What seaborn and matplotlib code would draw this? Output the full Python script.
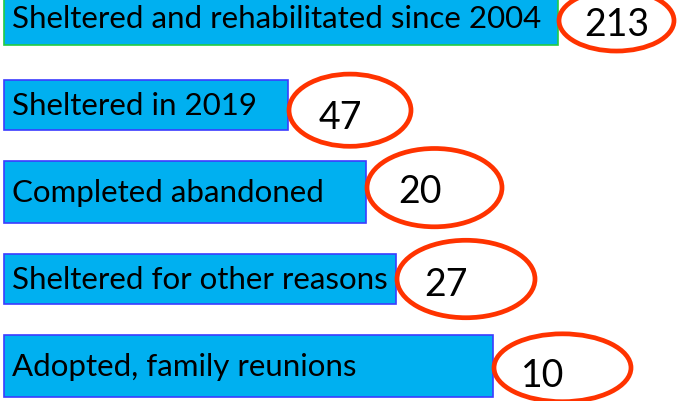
import matplotlib
matplotlib.use("Agg")
import matplotlib.pyplot as plt
from matplotlib.patches import Ellipse
import seaborn as sns
import pandas as pd

# ---- data ----
categories = [
    "Sheltered and rehabilitated since 2004",
    "Sheltered in 2019",
    "Completed abandoned",
    "Sheltered for other reasons",
    "Adopted, family reunions",
]
values = [213, 47, 20, 27, 10]
# bar lengths as drawn in the picture (not proportional to the values)
bar_lengths = [554, 284, 362, 392, 489]

df = pd.DataFrame({"category": categories, "length": bar_lengths, "value": values})

sns.set_theme(style="white")
plt.rcParams["font.family"] = ["Lato", "DejaVu Sans"]

fig = plt.figure(figsize=(6.98, 4.02), dpi=100)
ax = fig.add_axes([0, 0, 1, 1])

sns.barplot(data=df, x="length", y="category", orient="h", color="#00B0F0",
            saturation=1, width=0.62, edgecolor="#3C3CFF", linewidth=1.2, ax=ax)
ax.patches[0].set_edgecolor("#22CC44")

# individual bar thickness (styling)
bar_h = [0.62, 0.58, 0.71, 0.57, 0.71]
for i, p in enumerate(ax.patches[:len(categories)]):
    c = p.get_y() + p.get_height() / 2
    p.set_height(bar_h[i])
    p.set_y(c - bar_h[i] / 2)

ax.set_xlim(-4, 694)
ax.set_ylim(4.402, -0.218)
ax.axis("off")

ell_w = [115, 122, 135, 138, 137]
ell_h = [0.70, 0.83, 0.90, 0.89, 0.78]
ell_dy = [0.03, 0.06, -0.05, 0.0, 0.02]
num_dx = [59, 52, 54, 50, 50]
num_dy = [0.07, 0.14, -0.01, 0.06, 0.10]

for i, (cat, L, v) in enumerate(zip(categories, bar_lengths, values)):
    ax.text(8, i, cat, ha="left", va="center", fontsize=22.5, color="black")
    e = Ellipse((L + ell_w[i] / 2 + 1, i + ell_dy[i]), ell_w[i], ell_h[i],
                fill=False, edgecolor="#FF3300", linewidth=3.4, clip_on=False)
    ax.add_patch(e)
    ax.text(L + num_dx[i], i + num_dy[i], str(v), ha="center", va="center",
            fontsize=27, color="black")

fig.savefig("out.png", dpi=100)
